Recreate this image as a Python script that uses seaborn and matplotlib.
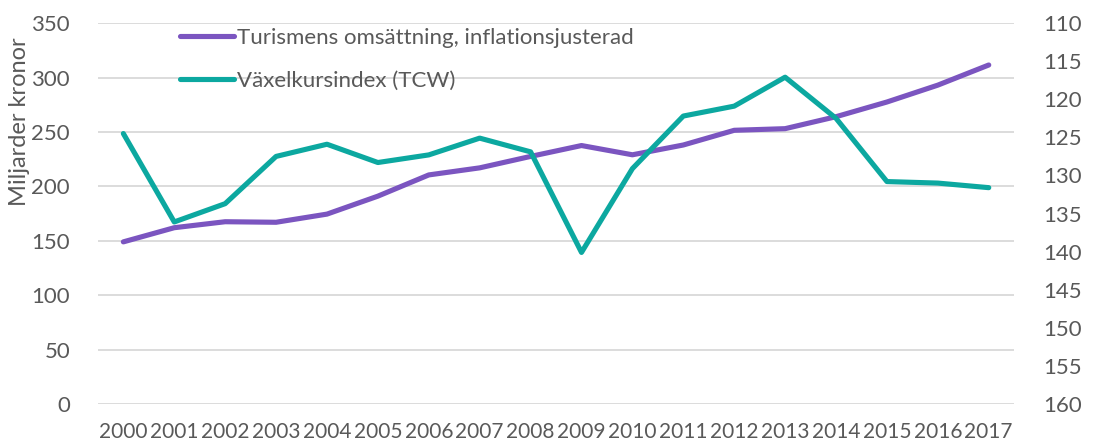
import pandas as pd
import seaborn as sns
import matplotlib.pyplot as plt
from matplotlib.lines import Line2D

years = list(range(2000, 2018))
turnover = [149, 162, 167.5, 167, 174.5, 191, 210.5, 217, 227.5, 237.5,
            229, 238, 251.5, 253, 264, 277.5, 293, 311.5]
tcw = [124.5, 136.1, 133.7, 127.5, 125.9, 128.3, 127.3, 125.1, 126.9, 140.1,
       129.1, 122.2, 120.9, 117.1, 122.5, 130.8, 131.0, 131.6]

label_turnover = "Turismens omsättning, inflationsjusterad"
label_tcw = "Växelkursindex (TCW)"
purple = "#7B55C0"
teal = "#0CA8A0"
text_col = "#595959"

sns.set_style("white")
plt.rcParams["font.family"] = ["Lato", "DejaVu Sans"]

df = pd.DataFrame({"year": years, "turnover": turnover, "tcw": tcw})

fig = plt.figure(figsize=(11, 4.44), dpi=100)
ax = fig.add_axes([0.089, 0.09, 0.833, 0.858])
ax2 = ax.twinx()

lw = 3.7
sns.lineplot(data=df, x="year", y="turnover", color=purple, lw=lw, ax=ax,
             solid_capstyle="round")
sns.lineplot(data=df, x="year", y="tcw", color=teal, lw=lw, ax=ax2,
             solid_capstyle="round")

ax.set_xlim(1999.5, 2017.5)
ax.set_ylim(0, 350)
ax.set_yticks(range(0, 351, 50))
ax2.set_ylim(160, 110)
ax2.set_yticks(range(110, 161, 5))
ax.set_xticks(years)
ax.set_xticklabels([str(y) for y in years])

ax.grid(axis="y", color="#D9D9D9", lw=1.3)
ax.set_axisbelow(True)
ax2.grid(False)
for a in (ax, ax2):
    for s in a.spines.values():
        s.set_visible(False)
    a.tick_params(length=0, labelsize=16, labelcolor=text_col)
ax.tick_params(axis="y", pad=20)
ax.tick_params(axis="x", pad=13, labelsize=15)
ax2.tick_params(axis="y", pad=21)

ax.set_xlabel("")
ax2.set_ylabel("")
ax.set_ylabel("Miljarder kronor", fontsize=17, color=text_col)
ax.yaxis.set_label_coords(-0.074, 0.74)

handles = [Line2D([], [], color=purple, lw=lw, solid_capstyle="round"),
           Line2D([], [], color=teal, lw=lw, solid_capstyle="round")]
ax.legend(handles, [label_turnover, label_tcw], loc="upper left",
          bbox_to_anchor=(0.068, 1.04), frameon=False, fontsize=16,
          labelcolor=text_col, handlelength=2.4, handletextpad=0.15,
          labelspacing=1.05)

fig.savefig("out.png", dpi=100)
